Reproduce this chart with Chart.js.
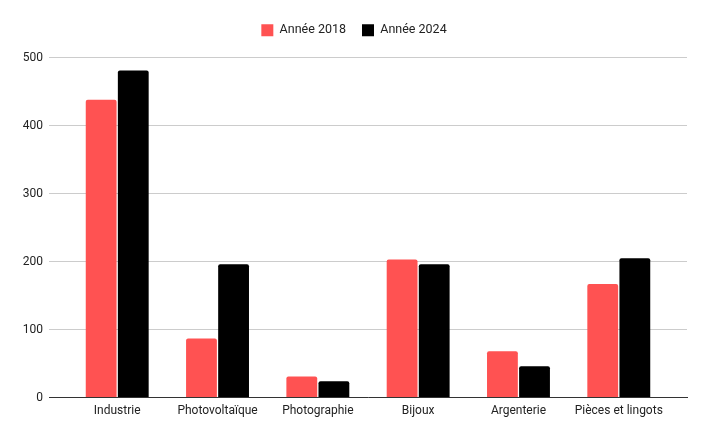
<!DOCTYPE html>
<html>
<head>
<meta charset="utf-8">
<script src="https://cdn.jsdelivr.net/npm/chart.js@4"></script>
<style>
  html, body { margin: 0; padding: 0; background: #fff; }
  #wrap { width: 709px; height: 439px; }
</style>
</head>
<body>
<div id="wrap"><canvas id="barChart" width="709" height="439"></canvas></div>
<script>
const categories = ['Industrie', 'Photovoltaïque', 'Photographie', 'Bijoux', 'Argenterie', 'Pièces et lingots'];
const values_2018 = [438, 87, 31, 203, 68, 167];
const values_2024 = [481, 196, 24, 196, 46, 205];
const y_ticks = [0, 100, 200, 300, 400, 500];

Chart.defaults.font.family = 'Roboto, "Liberation Sans", sans-serif';
Chart.defaults.font.size = 12;
Chart.defaults.color = '#222';

// extra room on both ends of the x axis (in categories), like the original
const x_edge = 0.18;

const plotTweaks = {
    id: 'plotTweaks',
    beforeInit(chart) {
        const fit = chart.legend.fit;
        chart.legend.fit = function () {
            fit.call(this);
            this.height += 11;
        };
    },
    afterLayout(chart) {
        const x = chart.scales.x;
        x._startValue -= x_edge;
        x._valueRange += 2 * x_edge;
    }
};

const data_bar = {
    labels: categories,
    datasets: [
        {
            label: 'Année 2018',
            data: values_2018,
            backgroundColor: '#ff5252',
            borderRadius: { topLeft: 2, topRight: 2 },
            borderSkipped: 'bottom',
            barPercentage: 0.96,
            categoryPercentage: 0.64,
        },
        {
            label: 'Année 2024',
            data: values_2024,
            backgroundColor: '#000000',
            borderRadius: { topLeft: 2, topRight: 2 },
            borderSkipped: 'bottom',
            barPercentage: 0.96,
            categoryPercentage: 0.64,
        },
    ]
};

const barChart_config = {
    type: 'bar',
    data: data_bar,
    plugins: [plotTweaks],
    options: {
        responsive: false,
        animation: false,
        layout: { padding: { left: 21, right: 22, top: 8, bottom: 15 } },
        scales: {
            x: {
                grid: { display: false, drawTicks: false },
                border: { display: true, color: '#333', width: 1 },
                ticks: { padding: 6, font: { size: 12 } },
            },
            y: {
                min: 0,
                max: 500,
                afterBuildTicks: (axis) => { axis.ticks = y_ticks.map(v => ({ value: v })); },
                afterFit: (axis) => { axis.width = 28; },
                grid: { color: '#cccccc', drawTicks: false },
                border: { display: false },
                ticks: { padding: 6, font: { size: 12 } },
            }
        },
        plugins: {
            legend: {
                position: 'top',
                labels: {
                    boxWidth: 12,
                    boxHeight: 12,
                    padding: 16,
                    font: { size: 12.5 },
                    color: '#222',
                }
            },
            tooltip: { enabled: false }
        }
    },
};

new Chart(document.getElementById('barChart'), barChart_config);
</script>
</body>
</html>
